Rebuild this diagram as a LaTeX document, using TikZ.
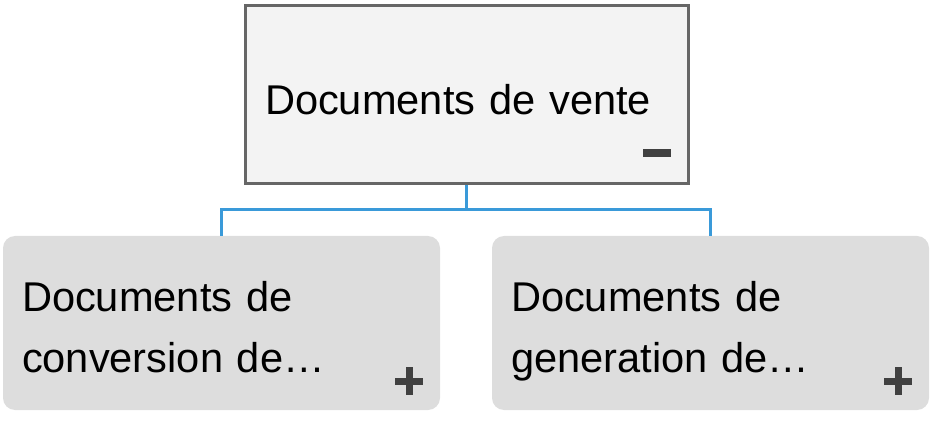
\documentclass[tikz,border=0pt]{standalone}
\usepackage{xcolor}
\usepackage{fontspec}
\setmainfont{Liberation Sans}
\usepackage{tikz}
\usetikzlibrary{calc}

\definecolor{rootfill}{HTML}{F3F3F3}
\definecolor{childfill}{HTML}{DDDDDD}
\definecolor{linkblue}{HTML}{3A9AD9}
\definecolor{signgray}{HTML}{404040}

\tikzset{
  rootbox/.style={draw=black!60, line width=3pt, fill=rootfill,
    minimum width=443pt, minimum height=178pt, inner xsep=20pt,
    text width=403pt, align=left, text height=45pt, text depth=5pt},
  childbox/.style={fill=childfill, rounded corners=12pt,
    minimum width=437pt, minimum height=174pt, inner xsep=19pt,
    text width=399pt, align=left, text height=40pt, text depth=64pt},
  link/.style={draw=linkblue, line width=3pt}
}

\begin{document}
\begin{tikzpicture}[x=1pt,y=-1pt,
    font=\fontsize{41.6}{61}\selectfont]
      \useasboundingbox (0,0) rectangle (937,422);
      \node[rootbox] (root) at (466.5,95) {Documents de vente};
      \node[childbox] (conv) at (221.5,323)
        {Documents de\\conversion de…};
      \node[childbox] (gen) at (710.5,323)
        {Documents de\\generation de…};
      % connectors
      \draw[link] (root.south) -- ++(0,24) coordinate (fork)
        -| (conv.north);
      \draw[link] (fork) -| (gen.north);
      % expand / collapse signs
      \fill[signgray] ($(root.south east)+(-47,-36)$)
        rectangle ++(28,8);
      \foreach \n in {conv,gen}
      {
        \fill[signgray] ($(\n.south east)+(-45,-32.5)$)
          rectangle ++(28,7);
        \fill[signgray] ($(\n.south east)+(-34.5,-43)$)
          rectangle ++(7,28);
      }
    \end{tikzpicture}
\end{document}
